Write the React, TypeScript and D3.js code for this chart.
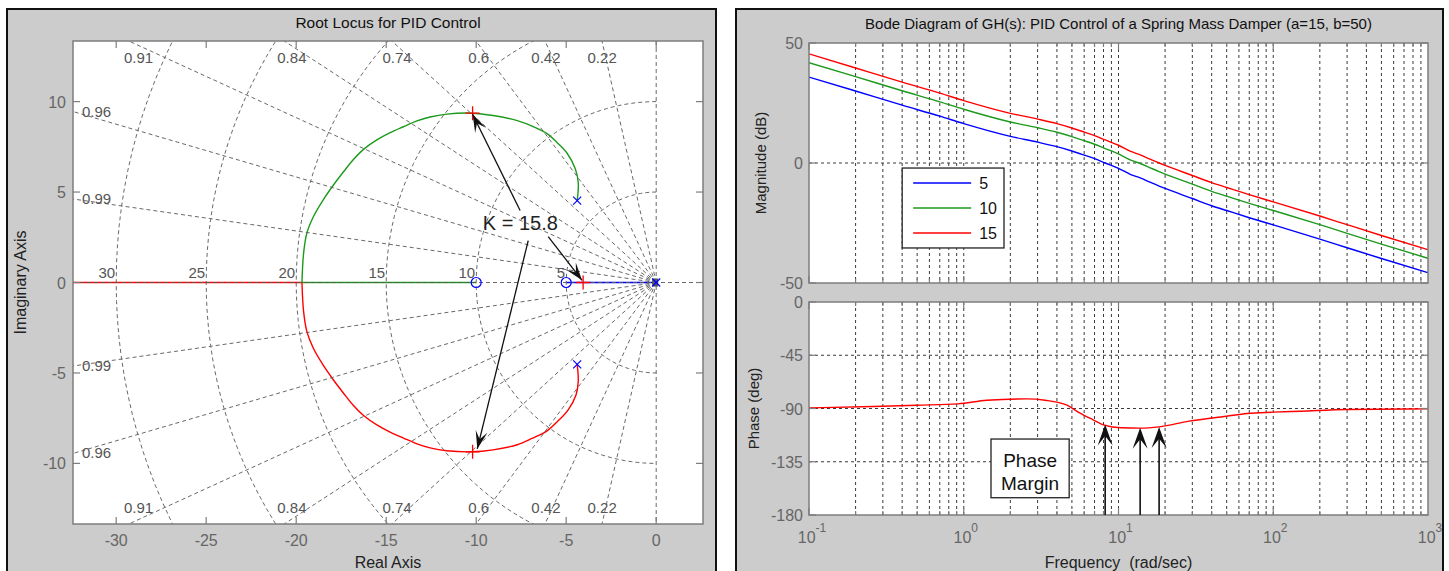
import * as d3 from "d3";

const FONT = "'Liberation Sans', Arial, Helvetica, sans-serif";
const TICK_GRAY = "#666";
const BOX_GRAY = "#7d7d7d";
const GRID_GRAY = "#5a5a5a";
const FIG_BG = "#cccccc";
const GREEN = "#1c9a1c";

// ---------- Root locus (left) ----------
const dampingLevels = [0.22, 0.42, 0.6, 0.74, 0.84, 0.91, 0.96, 0.99];
const wnLevels = [5, 10, 15, 20, 25, 30];
const realTicks = [-30, -25, -20, -15, -10, -5, 0];
const imagTicks = [-10, -5, 0, 5, 10];

// [real, imag]
const upperBranch = [
  [-4.39, 4.53], [-4.33, 5.52], [-4.5, 6.3], [-4.94, 7.13], [-5.5, 7.73],
  [-6.06, 8.23], [-6.83, 8.62], [-7.72, 8.95], [-9.06, 9.23], [-10.24, 9.36],
  [-11.63, 9.31], [-12.56, 9.15], [-13.29, 8.93], [-14.04, 8.61], [-14.78, 8.28],
  [-15.52, 7.88], [-16.26, 7.36], [-16.82, 6.8], [-17.37, 6.12], [-17.93, 5.39],
  [-18.48, 4.6], [-19.04, 3.65], [-19.41, 2.72], [-19.59, 1.61], [-19.68, 0],
];
const lowerBranch = [
  [-4.39, -4.53], [-4.33, -5.45], [-4.45, -6.2], [-4.9, -7.05], [-5.5, -7.7],
  [-6.06, -8.2], [-6.9, -8.62], [-7.72, -8.97], [-9.06, -9.25], [-10.24, -9.36],
  [-11.63, -9.3], [-12.56, -9.14], [-13.29, -8.92], [-14.04, -8.6], [-14.78, -8.27],
  [-15.52, -7.87], [-16.26, -7.35], [-16.82, -6.8], [-17.37, -6.12], [-17.93, -5.39],
  [-18.48, -4.6], [-19.04, -3.65], [-19.41, -2.7], [-19.59, -1.6], [-19.68, 0],
];
const realAxisBranches = [
  { from: -40, to: -19.68, color: "#ff0000" },
  { from: -19.68, to: -10, color: GREEN },
  { from: -5, to: 0, color: "#0000ff" },
];
const olPoles = [[0, 0], [-4.39, 4.53], [-4.39, -4.53]];
const olZeros = [[-10, 0], [-5, 0]];
const clPoles = [[-10.2, 9.36], [-10.2, -9.36], [-4.06, 0]];
const gainText = "K = 15.8";
const gainTextAt = [-7.55, 3.3];
const gainArrows = [
  { tail: [-7.56, 3.98], tip: [-10.2, 9.3] },
  { tail: [-6.0, 2.54], tip: [-4.12, 0.12] },
  { tail: [-7.11, 2.32], tip: [-9.94, -9.2] },
];

// ---------- Bode (right) ----------
const gains = ["5", "10", "15"];
const gainColors = ["#0000ff", GREEN, "#ff0000"];
const magFreq = [0.1, 0.2, 0.4, 0.7, 1, 2, 3, 4, 5, 6, 7, 8.2, 10, 12, 13.8, 16, 18.3, 20, 30, 40, 50, 70, 100, 200, 300, 500, 1000];
const magK5 = [35.8, 30.0, 24.1, 19.5, 16.4, 11.1, 8.7, 6.8, 5.0, 3.3, 1.8, 0.0, -2.2, -4.8, -6.2, -8.0, -9.6, -10.6, -14.8, -17.8, -19.8, -22.8, -25.8, -31.7, -35.3, -39.8, -45.7];
const magK10 = [41.8, 36.0, 30.1, 25.5, 22.4, 17.1, 14.7, 12.8, 11.0, 9.3, 7.8, 6.0, 3.8, 1.2, -0.2, -2.0, -3.6, -4.6, -8.8, -11.8, -13.8, -16.8, -19.8, -25.7, -29.3, -33.8, -39.7];
const magK15 = [45.5, 39.6, 33.7, 29.1, 26.0, 20.7, 18.3, 16.4, 14.6, 12.9, 11.4, 9.6, 7.4, 4.8, 3.4, 1.6, 0.0, -1.0, -5.2, -8.2, -10.2, -13.2, -16.2, -22.1, -25.7, -30.2, -36.1];
const phaseFreq = [0.1, 0.26, 0.5, 0.92, 1.41, 2.55, 3.36, 4.65, 5.6, 6.8, 8.1, 10.4, 13.8, 18.3, 28.5, 49.8, 67.8, 100, 150, 300, 1000];
const phaseDeg = [-89.5, -88.3, -87.2, -86.1, -83, -81.9, -83, -87.2, -93.7, -99.3, -104, -106.3, -106.6, -105.5, -100.7, -96.5, -94.2, -93.1, -92.3, -90.8, -90.3];
const crossFreq = [8.2, 13.8, 18.3];
const crossPhase = [-103.5, -106.3, -105.7];
const magTicks = [50, 0, -50];
const phaseTicks = [0, -45, -90, -135, -180];
const decades = [-1, 0, 1, 2, 3];

function arrowHead(tx, ty, fx, fy, L = 18, W = 12) {
  const a = Math.atan2(ty - fy, tx - fx);
  const c = Math.cos(a), s = Math.sin(a);
  const pts = [[0, 0], [-L, -W / 2], [-0.55 * L, 0], [-L, W / 2]];
  return "M" + pts.map(([px, py]) => `${tx + px * c - py * s},${ty + px * s + py * c}`).join("L") + "Z";
}

const RootLocus = () => {
  const x = d3.scaleLinear().domain([-32.4, 2.6]).range([73, 703]);
  const y = d3.scaleLinear().domain([-13.35, 13.35]).range([524, 41]);
  const [x0, x1] = x.range();
  const [y0, y1] = [y.range()[1], y.range()[0]];
  const line = d3.line().x((d) => x(d[0])).y((d) => y(d[1])).curve(d3.curveCatmullRom.alpha(0.5));
  const straight = d3.line().x((d) => x(d[0])).y((d) => y(d[1]));
  const [reMin] = x.domain();
  const imMax = y.domain()[1];

  const circles = wnLevels.map((r) =>
    straight(d3.range(90, 270.1, 2).map((deg) => [r * Math.cos((deg * Math.PI) / 180), r * Math.sin((deg * Math.PI) / 180)]))
  );

  const dampLabels = [];
  dampingLevels.forEach((z) => {
    const k = Math.sqrt(1 - z * z) / z; // imag per unit of -real
    const reTop = -imMax / k;
    [1, -1].forEach((sgn) => {
      if (reTop >= reMin) {
        dampLabels.push({ t: String(z), x: x(reTop) + 13 * z * z * z, y: sgn > 0 ? y0 + 22 : y1 - 11, anchor: "middle" });
      } else {
        const im = -reMin * k * sgn;
        dampLabels.push({ t: String(z), x: x0 + 9, y: y(im) + 5, anchor: "start" });
      }
    });
  });

  return (
    <g fontFamily={FONT}>
      <defs>
        <clipPath id="rl-clip">
          <rect x={x0} y={y0} width={x1 - x0} height={y1 - y0} />
        </clipPath>
      </defs>
      <rect x={x0} y={y0} width={x1 - x0} height={y1 - y0} fill="#fff" />
      <g clipPath="url(#rl-clip)">
        {realAxisBranches.map((b, i) => (
          <line key={i} x1={x(b.from)} x2={x(b.to)} y1={y(0)} y2={y(0)} stroke={b.color} strokeWidth={1.5} />
        ))}
        <path d={line(upperBranch)} fill="none" stroke={GREEN} strokeWidth={1.4} />
        <path d={line(lowerBranch)} fill="none" stroke="#ff0000" strokeWidth={1.4} />
        {/* sgrid */}
        <g stroke={GRID_GRAY} strokeWidth={1} strokeDasharray="4 3" fill="none" opacity={0.9}>
          {dampingLevels.map((z) =>
            [1, -1].map((sgn) => (
              <line key={`${z}${sgn}`} x1={x(0)} y1={y(0)} x2={x(-60 * z)} y2={y(sgn * 60 * Math.sqrt(1 - z * z))} />
            ))
          )}
          <line x1={x0} x2={x1} y1={y(0)} y2={y(0)} />
          <line x1={x(0)} x2={x(0)} y1={y0} y2={y1} />
          {circles.map((d, i) => <path key={i} d={d} />)}
        </g>
        {wnLevels.map((r) => (
          <text key={r} x={x(-r) - 1} y={y(0) - 5} textAnchor="end" fontSize={15} fill="#555">{r}</text>
        ))}
        {dampLabels.map((l, i) => (
          <text key={i} x={l.x} y={l.y} textAnchor={l.anchor} fontSize={15} fill="#555">{l.t}</text>
        ))}
        {/* markers */}
        <rect x={x(0) - 4} y={y(0) - 4} width={6} height={8} fill="#555" />
        {olZeros.map(([re, im], i) => (
          <circle key={i} cx={x(re)} cy={y(im)} r={5} fill="none" stroke="#0000ff" strokeWidth={1.2} />
        ))}
        {olPoles.map(([re, im], i) => (
          <path key={i} d={`M${x(re) - 4},${y(im) - 4}L${x(re) + 4},${y(im) + 4}M${x(re) - 4},${y(im) + 4}L${x(re) + 4},${y(im) - 4}`} stroke="#0000ff" strokeWidth={1.2} />
        ))}
        {clPoles.map(([re, im], i) => (
          <path key={i} d={`M${x(re) - 7},${y(im)}L${x(re) + 7},${y(im)}M${x(re)},${y(im) - 7}L${x(re)},${y(im) + 7}`} stroke="#ff0000" strokeWidth={1.3} />
        ))}
      </g>
      {/* annotation */}
      <text x={x(gainTextAt[0])} y={y(gainTextAt[1]) + 7} textAnchor="middle" fontSize={20} fill="#222">{gainText}</text>
      {gainArrows.map((a, i) => {
        const tx = x(a.tip[0]), ty = y(a.tip[1]), fx = x(a.tail[0]), fy = y(a.tail[1]);
        return (
          <g key={i}>
            <line x1={fx} y1={fy} x2={tx} y2={ty} stroke="#111" strokeWidth={1.3} />
            <path d={arrowHead(tx, ty, fx, fy)} fill="#111" />
          </g>
        );
      })}
      {/* box + ticks */}
      <rect x={x0} y={y0} width={x1 - x0} height={y1 - y0} fill="none" stroke={BOX_GRAY} strokeWidth={1.5} />
      <g stroke={BOX_GRAY} strokeWidth={1.2}>
        {realTicks.map((t) => (
          <g key={t}>
            <line x1={x(t)} x2={x(t)} y1={y1} y2={y1 - 7} />
            <line x1={x(t)} x2={x(t)} y1={y0} y2={y0 + 7} />
          </g>
        ))}
        {imagTicks.map((t) => (
          <g key={t}>
            <line x1={x0} x2={x0 + 7} y1={y(t)} y2={y(t)} />
            <line x1={x1} x2={x1 - 7} y1={y(t)} y2={y(t)} />
          </g>
        ))}
      </g>
      {realTicks.map((t) => (
        <text key={t} x={x(t)} y={y1 + 22} textAnchor="middle" fontSize={16} fill={TICK_GRAY}>{t}</text>
      ))}
      {imagTicks.map((t) => (
        <text key={t} x={x0 - 7} y={y(t) + 6} textAnchor="end" fontSize={16} fill={TICK_GRAY}>{t}</text>
      ))}
      <text x={(x0 + x1) / 2} y={28} textAnchor="middle" fontSize={15.5} fill="#111">Root Locus for PID Control</text>
      <text x={(x0 + x1) / 2} y={568} textAnchor="middle" fontSize={16} fill="#222">Real Axis</text>
      <text transform={`translate(26,${y(0)}) rotate(-90)`} textAnchor="middle" fontSize={16} fill="#222">Imaginary Axis</text>
    </g>
  );
};

const Bode = () => {
  const x = d3.scaleLog().domain([0.1, 1000]).range([809, 1428]);
  const yM = d3.scaleLinear().domain([-50, 50]).range([283, 43]);
  const yP = d3.scaleLinear().domain([-180, 0]).range([515, 302]);
  const [x0, x1] = x.range();
  const minor = [];
  for (let n = -1; n <= 2; n++) for (let k = 1; k <= 9; k++) minor.push(k * Math.pow(10, n));
  const inner = minor.filter((f) => f > 0.1 && f < 1000);
  const magSeries = [magK5, magK10, magK15];
  const magLine = (vals) =>
    d3.line().x((_, i) => x(magFreq[i])).y((d) => yM(d)).curve(d3.curveMonotoneX)(vals);
  const phLine = d3.line().x((_, i) => x(phaseFreq[i])).y((d) => yP(d)).curve(d3.curveMonotoneX)(phaseDeg);

  const panel = (yS, hGrid, ticks, clipId, body) => {
    const [b, t] = yS.range();
    return (
      <g>
        <defs>
          <clipPath id={clipId}><rect x={x0} y={t} width={x1 - x0} height={b - t} /></clipPath>
        </defs>
        <rect x={x0} y={t} width={x1 - x0} height={b - t} fill="#fff" />
        <g stroke="#3a3a3a" strokeWidth={1} strokeDasharray="3 3">
          {inner.map((f) => <line key={f} x1={x(f)} x2={x(f)} y1={t} y2={b} />)}
          {hGrid.map((v) => <line key={v} x1={x0} x2={x1} y1={yS(v)} y2={yS(v)} />)}
        </g>
        <g clipPath={`url(#${clipId})`}>{body}</g>
        <rect x={x0} y={t} width={x1 - x0} height={b - t} fill="none" stroke={BOX_GRAY} strokeWidth={1.5} />
        <g stroke={BOX_GRAY} strokeWidth={1.2}>
          {minor.map((f) => {
            const len = Math.abs(Math.log10(f) - Math.round(Math.log10(f))) < 1e-9 ? 7 : 4;
            return (
              <g key={f}>
                <line x1={x(f)} x2={x(f)} y1={t} y2={t + len} />
                <line x1={x(f)} x2={x(f)} y1={b} y2={b - len} />
              </g>
            );
          })}
          {ticks.map((v) => (
            <g key={v}>
              <line x1={x0} x2={x0 + 7} y1={yS(v)} y2={yS(v)} />
              <line x1={x1} x2={x1 - 7} y1={yS(v)} y2={yS(v)} />
            </g>
          ))}
        </g>
        {ticks.map((v) => (
          <text key={v} x={x0 - 6} y={yS(v) + 6} textAnchor="end" fontSize={16} fill={TICK_GRAY} fontFamily={FONT}>{v}</text>
        ))}
      </g>
    );
  };

  return (
    <g fontFamily={FONT}>
      {panel(yM, [0], magTicks, "mag-clip",
        magSeries.map((vals, i) => (
          <path key={i} d={magLine(vals)} fill="none" stroke={gainColors[i]} strokeWidth={1.4} />
        ))
      )}
      {panel(yP, [-45, -90, -135], phaseTicks, "ph-clip",
        <path d={phLine} fill="none" stroke="#ff0000" strokeWidth={1.4} />
      )}
      {/* legend */}
      <g>
        <rect x={x(0.4)} y={yM(-2.1)} width={x(1.82) - x(0.4)} height={yM(-35.4) - yM(-2.1)} fill="#fff" stroke="#222" strokeWidth={1.3} />
        {gains.map((g, i) => {
          const ly = yM(-2.1) + 15 + i * 25;
          return (
            <g key={g}>
              <line x1={x(0.4) + 11} x2={x(0.4) + 69} y1={ly} y2={ly} stroke={gainColors[i]} strokeWidth={1.4} />
              <text x={x(0.4) + 77} y={ly + 6} fontSize={16} fill="#111">{g}</text>
            </g>
          );
        })}
      </g>
      {/* phase margin annotation */}
      <rect x={x(1.5)} y={yP(-115.8)} width={x(4.8) - x(1.5)} height={yP(-165.4) - yP(-115.8)} fill="#fff" stroke="#222" strokeWidth={1.3} />
      <text x={(x(1.5) + x(4.8)) / 2} y={yP(-115.8) + 28} textAnchor="middle" fontSize={19} fill="#111">Phase</text>
      <text x={(x(1.5) + x(4.8)) / 2} y={yP(-115.8) + 51} textAnchor="middle" fontSize={19} fill="#111">Margin</text>
      {crossFreq.map((f, i) => {
        const tx = x(f), ty = yP(crossPhase[i]), fy = yP(-180);
        return (
          <g key={f}>
            <line x1={tx} x2={tx} y1={fy} y2={ty + 6} stroke="#111" strokeWidth={1.6} />
            <path d={arrowHead(tx, ty, tx, fy, 21, 15)} fill="#111" />
          </g>
        );
      })}
      {/* x tick labels */}
      {decades.map((n) => (
        <text key={n} x={x(Math.pow(10, n)) + (n < 0 ? 3 : 2)} y={543} textAnchor="middle" fontSize={16} fill={TICK_GRAY}>
          10<tspan dy={-11} fontSize={12}>{n}</tspan>
        </text>
      ))}
      <text x={(x0 + x1) / 2} y={29} textAnchor="middle" fontSize={15} fill="#111">
        Bode Diagram of GH(s): PID Control of a Spring Mass Damper (a=15, b=50)
      </text>
      <text x={(x0 + x1) / 2} y={568} textAnchor="middle" fontSize={16} fill="#222" style={{ whiteSpace: "pre" }}>Frequency  (rad/sec)</text>
      <text transform={`translate(766,${yM(0)}) rotate(-90)`} textAnchor="middle" fontSize={15} fill="#222">Magnitude (dB)</text>
      <text transform={`translate(759,${(yP(0) + yP(-180)) / 2}) rotate(-90)`} textAnchor="middle" fontSize={15} fill="#222">Phase (deg)</text>
    </g>
  );
};

export default function App() {
  return (
    <svg width={1449} height={571} style={{ position: "absolute", left: 0, top: 0 }}>
      <rect width={1449} height={571} fill="#fff" />
      <rect x={7} y={9} width={709} height={580} fill={FIG_BG} stroke="#111" strokeWidth={2} />
      <rect x={736} y={9} width={707} height={580} fill={FIG_BG} stroke="#111" strokeWidth={2} />
      <RootLocus />
      <Bode />
    </svg>
  );
}
